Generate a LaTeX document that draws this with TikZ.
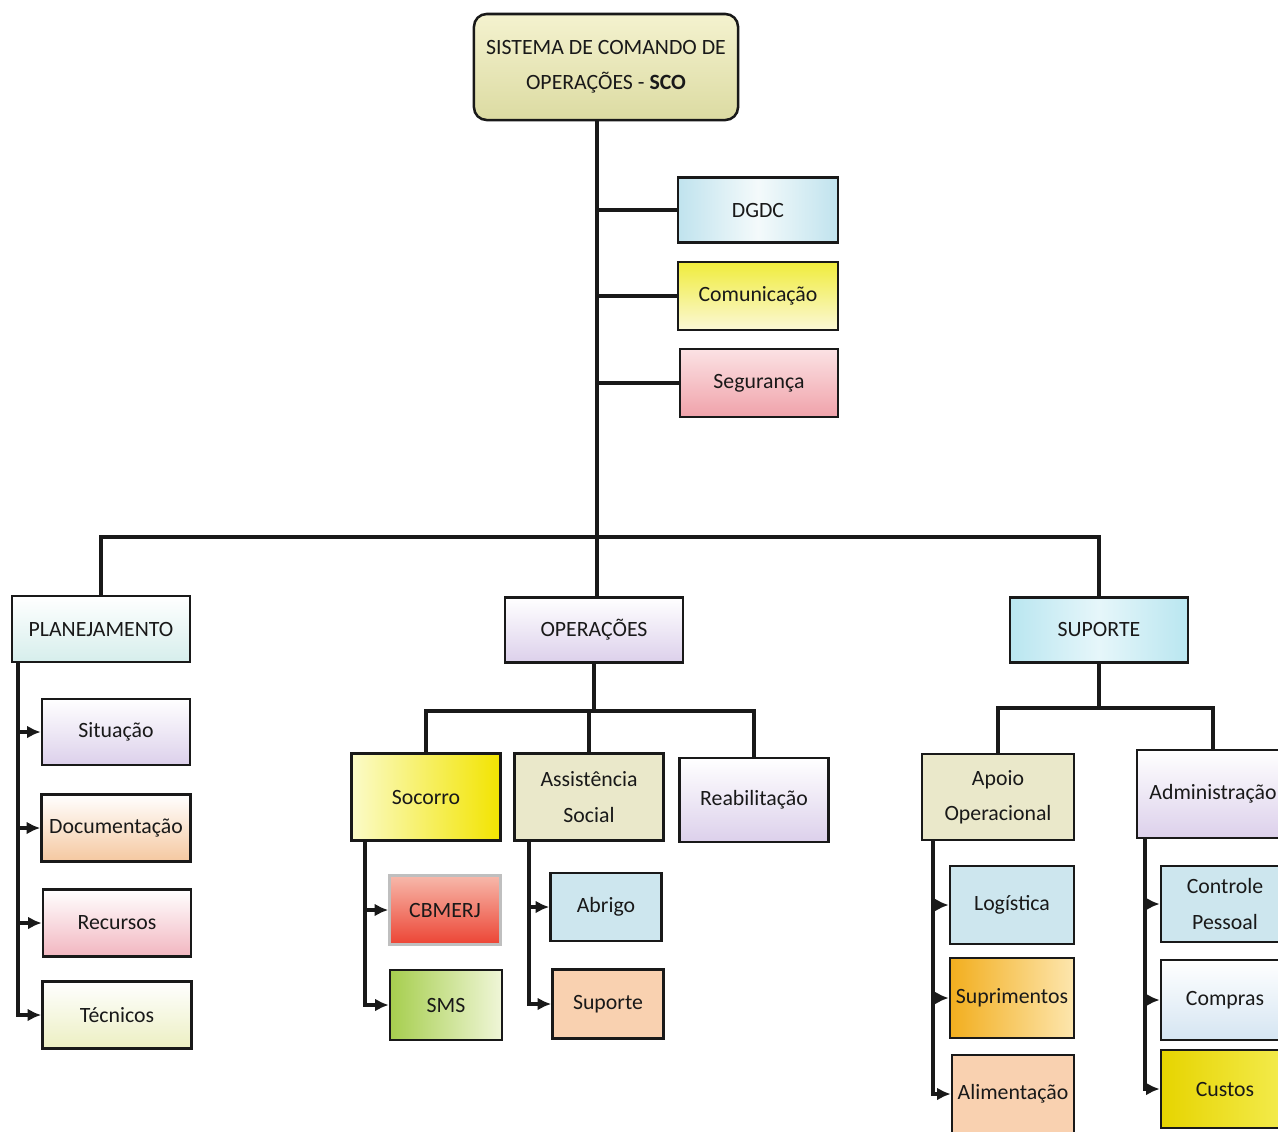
\documentclass[tikz,border=0pt]{standalone}
\usepackage{fontspec}
\setmainfont{Carlito}
\usetikzlibrary{arrows.meta,positioning}
\def\boxfont{\fontsize{15.5}{25}\selectfont}

\definecolor{scoTop}{HTML}{F4F2CF}
\definecolor{scoBot}{HTML}{DCDBA2}
\definecolor{dgdcSide}{HTML}{C0E3EE}
\definecolor{dgdcMid}{HTML}{F4FAFB}
\definecolor{comTop}{HTML}{F0EC3C}
\definecolor{comBot}{HTML}{FBF8D6}
\definecolor{segTop}{HTML}{FBE2E4}
\definecolor{segBot}{HTML}{F0A2AA}
\definecolor{planBot}{HTML}{D6EEEC}
\definecolor{lilac}{HTML}{DCD0EB}
\definecolor{supSide}{HTML}{B9E6F0}
\definecolor{supMid}{HTML}{E6F6FA}
\definecolor{docBot}{HTML}{F5C8A0}
\definecolor{recBot}{HTML}{F2B6C0}
\definecolor{tecBot}{HTML}{ECEFC2}
\definecolor{socLeft}{HTML}{FBFBC8}
\definecolor{socRight}{HTML}{F2E400}
\definecolor{beige}{HTML}{EAE8CA}
\definecolor{cbmTop}{HTML}{F7B9AB}
\definecolor{cbmBot}{HTML}{EC4434}
\definecolor{smsLeft}{HTML}{A6CE4E}
\definecolor{smsRight}{HTML}{F0F6D8}
\definecolor{paleBlue}{HTML}{CDE6EE}
\definecolor{peach}{HTML}{F9D1B0}
\definecolor{suprLeft}{HTML}{F2AE1E}
\definecolor{suprRight}{HTML}{FDE6AE}
\definecolor{compBot}{HTML}{D5E5F2}
\definecolor{cusLeft}{HTML}{E6D400}
\definecolor{cusRight}{HTML}{F4EC50}

\tikzset{
	box/.style={draw=black!90, line width=1.8pt, align=center, font=\boxfont, text=black!90, inner sep=2pt},
	conn/.style={line width=2.3pt, black!90},
	arr/.style={conn, -{Latex[length=3.4mm,width=3.2mm]}},
}

\begin{document}
\begin{tikzpicture}[x=0.025cm, y=-0.025cm]
			%%%%% START %%%%%
			
			\useasboundingbox (0, 0) rectangle (1278, 1132);
			\fill[white] (0, 0) rectangle (1278, 1132);
			\clip (0, 0) rectangle (1278, 1132);
			
			% top
			\node[box, rounded corners=9pt, minimum width=6.6cm, minimum height=2.65cm, top color=scoTop, bottom color=scoBot] (sco) at (606, 67) {SISTEMA DE COMANDO DE\\OPERAÇÕES - \textbf{SCO}};
			
			\node[box, minimum width=4cm, minimum height=1.625cm, left color=dgdcSide, right color=dgdcSide, middle color=dgdcMid] (dgdc) at (758, 210) {DGDC};
			\node[box, minimum width=4cm, minimum height=1.7cm, top color=comTop, bottom color=comBot] (com) at (758, 296) {Comunicação};
			\node[box, minimum width=3.95cm, minimum height=1.7cm, top color=segTop, bottom color=segBot] (seg) at (759, 383) {Segurança};
			
			\coordinate (trunkTop) at (597, 120);
			\coordinate (trunkBot) at (597, 537);
			\draw[conn] (trunkTop) -- (trunkBot);
			\draw[conn] (trunkTop |- dgdc) -- (dgdc);
			\draw[conn] (trunkTop |- com) -- (com);
			\draw[conn] (trunkTop |- seg) -- (seg);
			
			% second level
			\node[box, minimum width=4.45cm, minimum height=1.65cm, top color=white, bottom color=planBot] (plan) at (101, 629) {PLANEJAMENTO};
			\node[box, minimum width=4.45cm, minimum height=1.625cm, top color=white, bottom color=lilac] (ops) at (594, 630) {OPERAÇÕES};
			\node[box, minimum width=4.45cm, minimum height=1.625cm, left color=supSide, right color=supSide, middle color=supMid] (sup) at (1099, 630) {SUPORTE};
			
			\draw[conn] (plan.north) |- (trunkBot) -| (sup.north);
			\draw[conn] (trunkBot) -- (trunkBot |- ops.north);
			
			% planejamento
			\node[box, minimum width=3.7cm, minimum height=1.65cm, top color=white, bottom color=lilac] (sit) at (116, 732) {Situação};
			\node[box, minimum width=3.725cm, minimum height=1.675cm, top color=white, bottom color=docBot] (doc) at (116, 828) {Documentação};
			\node[box, minimum width=3.7cm, minimum height=1.675cm, top color=white, bottom color=recBot] (rec) at (117, 923) {Recursos};
			\node[box, minimum width=3.725cm, minimum height=1.675cm, top color=white, bottom color=tecBot] (tec) at (117, 1015) {Técnicos};
			
			\coordinate (planL) at (18, 662);
			\draw[arr] (planL) |- (tec);
			\draw[arr] (planL |- sit) -- (sit);
			\draw[arr] (planL |- doc) -- (doc);
			\draw[arr] (planL |- rec) -- (rec);
			
			% operacoes
			\node[box, minimum width=3.725cm, minimum height=2.175cm, left color=socLeft, right color=socRight] (soc) at (426, 797) {Socorro};
			\node[box, minimum width=3.725cm, minimum height=2.175cm, fill=beige] (asoc) at (589, 797) {Assistência\\Social};
			\node[box, minimum width=3.725cm, minimum height=2.1cm, top color=white, bottom color=lilac] (reab) at (754, 800) {Reabilitação};
			
			\coordinate (opsBus) at (594, 711);
			\draw[conn] (ops.south) -- (opsBus);
			\draw[conn] (soc.north) |- (opsBus) -| (reab.north);
			\draw[conn] (asoc.north) -- (asoc.north |- opsBus);
			
			\node[box, draw=black!25, minimum width=2.775cm, minimum height=1.725cm, top color=cbmTop, bottom color=cbmBot] (cbm) at (445, 910) {CBMERJ};
			\node[box, minimum width=2.8cm, minimum height=1.75cm, left color=smsLeft, right color=smsRight] (sms) at (446, 1005) {SMS};
			\node[box, minimum width=2.775cm, minimum height=1.7cm, fill=paleBlue] (abr) at (606, 907) {Abrigo};
			\node[box, minimum width=2.775cm, minimum height=1.725cm, fill=peach] (supo) at (608, 1004) {Suporte};
			
			\coordinate (socL) at (365, 841);
			\draw[arr] (socL) |- (sms);
			\draw[arr] (socL |- cbm) -- (cbm);
			\coordinate (asocL) at (529, 841);
			\draw[arr] (asocL) |- (supo);
			\draw[arr] (asocL |- abr) -- (abr);
			
			% suporte
			\node[box, minimum width=3.8cm, minimum height=2.15cm, fill=beige] (apo) at (998, 797) {Apoio\\Operacional};
			\node[box, minimum width=3.8cm, minimum height=2.2cm, top color=white, bottom color=lilac] (adm) at (1213, 794) {Administração};
			
			\coordinate (supBus) at (1099, 708);
			\draw[conn] (sup.south) -- (supBus);
			\draw[conn] (apo.north) |- (supBus) -| (adm.north);
			
			\node[box, minimum width=3.1cm, minimum height=1.95cm, fill=paleBlue] (log) at (1012, 905) {Logística};
			\node[box, minimum width=3.1cm, minimum height=2cm, left color=suprLeft, right color=suprRight] (supr) at (1012, 998) {Suprimentos};
			\node[box, minimum width=3.05cm, minimum height=1.95cm, fill=peach] (ali) at (1013, 1094) {Alimentação};
			
			\coordinate (apoL) at (933, 840);
			\draw[arr] (apoL) |- (ali);
			\draw[arr] (apoL |- log) -- (log);
			\draw[arr] (apoL |- supr) -- (supr);
			
			\node[box, minimum width=3.2cm, minimum height=1.9cm, fill=paleBlue] (ctl) at (1225, 904) {Controle\\Pessoal};
			\node[box, minimum width=3.2cm, minimum height=2cm, top color=white, bottom color=compBot] (comp) at (1225, 1000) {Compras};
			\node[box, minimum width=3.2cm, minimum height=1.95cm, left color=cusLeft, right color=cusRight] (cus) at (1225, 1089) {Custos};
			
			\coordinate (admL) at (1145, 838);
			\draw[arr] (admL) |- (cus);
			\draw[arr] (admL |- ctl) -- (ctl);
			\draw[arr] (admL |- comp) -- (comp);
			
			%%%%% END %%%%%
\end{tikzpicture}
\end{document}
